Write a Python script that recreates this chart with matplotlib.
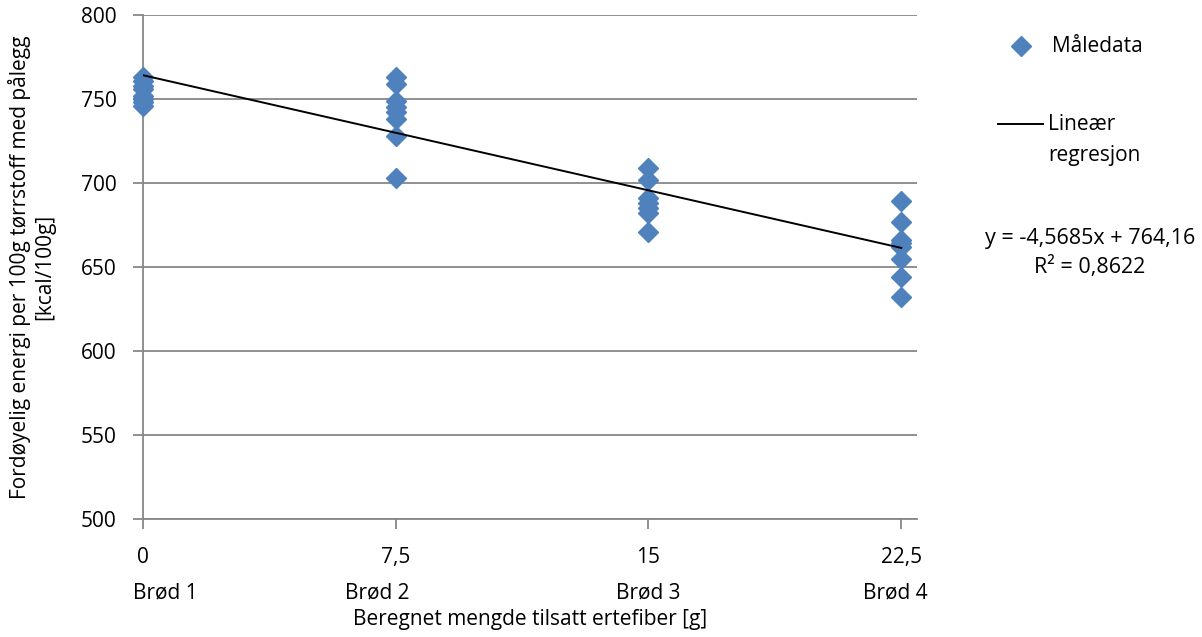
import numpy as np
import matplotlib
matplotlib.use("Agg")
import matplotlib.pyplot as plt
from matplotlib.lines import Line2D

plt.rcParams['font.family'] = ['Open Sans', 'DejaVu Sans']

# Measured data: added pea fibre [g] and digestible energy [kcal/100g]
fiber_levels = [0, 7.5, 15, 22.5]
bread_labels = ['Brød 1', 'Brød 2', 'Brød 3', 'Brød 4']
energy_brod1 = [763, 761, 758, 756, 752, 750, 748, 746]
energy_brod2 = [763, 759, 749, 745, 742, 738, 728, 703]
energy_brod3 = [709, 702, 691, 688, 685, 682, 671]
energy_brod4 = [689, 677, 666, 664, 662, 655, 644, 632]

# Excel trend line
slope = -4.5685
intercept = 764.16
r_squared = 0.8622

blue = '#4F81BD'
grid_gray = '#878787'
fs = 15

fig = plt.figure(figsize=(12.02, 6.37), dpi=100)
ax = fig.add_axes([143 / 1202, 1 - 519 / 637, (917 - 143) / 1202, (519 - 15) / 637])

groups = [energy_brod1, energy_brod2, energy_brod3, energy_brod4]
for xv, vals in zip(fiber_levels, groups):
    ax.plot([xv] * len(vals), vals, linestyle='none', marker='D', markersize=10.5,
            color=blue, zorder=3, clip_on=False)

xl = np.array([fiber_levels[0], fiber_levels[-1]])
ax.plot(xl, slope * xl + intercept, color='black', linewidth=1.4, zorder=4)

ax.set_xlim(0, 22.97)
ax.set_ylim(500, 800)
ax.set_yticks(np.arange(500, 801, 50))
ax.set_xticks(fiber_levels)
ax.set_xticklabels(['0', '7,5', '15', '22,5'])
ax.grid(axis='y', color=grid_gray, linewidth=1.3)
ax.set_axisbelow(True)
for s in ['top', 'right']:
    ax.spines[s].set_visible(False)
for s in ['left', 'bottom']:
    ax.spines[s].set_color(grid_gray)
    ax.spines[s].set_linewidth(1.3)
ax.tick_params(axis='both', direction='out', length=7, width=1.3, color=grid_gray,
               labelsize=fs)
ax.tick_params(axis='y', pad=12)
ax.tick_params(axis='x', pad=13)

# bread labels below the numeric ticks
label_pos = [0.65, 6.95, 15.0, 22.32]
for xp, lab in zip(label_pos, bread_labels):
    ax.text(xp, -0.147, lab, transform=ax.get_xaxis_transform(), ha='center', va='center',
            fontsize=fs)

ax.set_xlabel('Beregnet mengde tilsatt ertefiber [g]', fontsize=fs)
ax.xaxis.set_label_coords(0.5, -0.2)
ax.xaxis.label.set_va('center')
ax.set_ylabel('Fordøyelig energi per 100g tørrstoff med pålegg\n[kcal/100g]', fontsize=fs,
              linespacing=1.25)
ax.yaxis.set_label_coords(-0.113, 0.5)

# manual legend on the right
fig.add_artist(Line2D([1021 / 1202], [1 - 46 / 637], marker='D', markersize=10.5,
                      color=blue, linestyle='none', transform=fig.transFigure))
fig.text(1052 / 1202, 1 - 46 / 637, 'Måledata', fontsize=fs, va='center')
fig.add_artist(Line2D([998 / 1202, 1043 / 1202], [1 - 124 / 637] * 2, color='black',
                      linewidth=1.4, transform=fig.transFigure))
fig.text(1048 / 1202, 1 - 140 / 637, 'Lineær\nregresjon', fontsize=fs, va='center',
         linespacing=1.6)
eq = 'y = %sx + %s\nR² = %s' % (str(slope).replace('.', ','), str(intercept).replace('.', ','),
                                 str(r_squared).replace('.', ','))
fig.text(1090 / 1202, 1 - 253 / 637, eq, fontsize=15.5, ha='center', va='center',
         linespacing=1.4, multialignment='center')

fig.savefig('out.png', dpi=100)
